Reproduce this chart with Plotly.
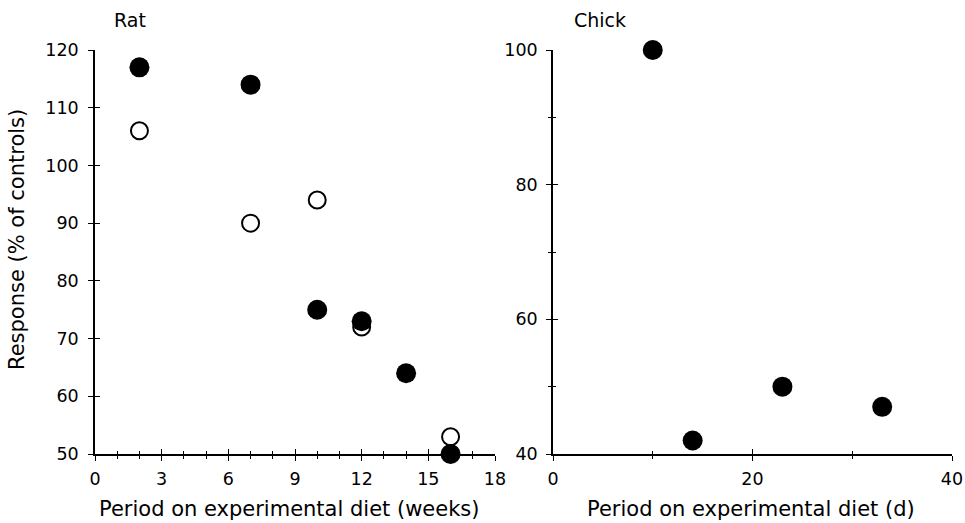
import plotly.graph_objects as go

# Data
rat_filled_x = [2, 7, 10, 12, 14, 16]
rat_filled_y = [117, 114, 75, 73, 64, 50]
rat_open_x = [2, 7, 10, 12, 16]
rat_open_y = [106, 90, 94, 72, 53]
chick_x = [10, 14, 23, 33]
chick_y = [100, 42, 50, 47]

rat_xticks = [0, 3, 6, 9, 12, 15, 18]
rat_yticks = [50, 60, 70, 80, 90, 100, 110, 120]
chick_xticks = [0, 20, 40]
chick_yticks = [40, 60, 80, 100]

W, H = 965, 523
FONT = "DejaVu Sans, Verdana, sans-serif"
TF = dict(family=FONT, size=17.5, color="black")
PF = dict(family=FONT, size=19, color="black")
LF = dict(family=FONT, size=21, color="black")

def fx(p):
    return p / W

def fy(p):
    return 1 - p / H

dx1 = [fx(95), fx(495)]
dx2 = [fx(553), fx(952)]
dy = [fy(454), fy(50)]

fig = go.Figure()
fig.add_trace(go.Scatter(x=rat_open_x, y=rat_open_y, mode="markers", xaxis="x", yaxis="y",
                         marker=dict(size=17, color="white", line=dict(color="black", width=2)),
                         cliponaxis=False, showlegend=False))
fig.add_trace(go.Scatter(x=rat_filled_x, y=rat_filled_y, mode="markers", xaxis="x", yaxis="y",
                         marker=dict(size=20, color="black", line=dict(width=0)),
                         cliponaxis=False, showlegend=False))
fig.add_trace(go.Scatter(x=chick_x, y=chick_y, mode="markers", xaxis="x2", yaxis="y2",
                         marker=dict(size=20, color="black", line=dict(width=0)),
                         cliponaxis=False, showlegend=False))
# dummy traces to activate overlay axes for crossing ticks
fig.add_trace(go.Scatter(x=[None], y=[None], xaxis="x3", yaxis="y3", showlegend=False, hoverinfo="skip"))
fig.add_trace(go.Scatter(x=[None], y=[None], xaxis="x4", yaxis="y4", showlegend=False, hoverinfo="skip"))

common = dict(showgrid=False, zeroline=False, linecolor="black", linewidth=1.5,
              tickcolor="black", tickwidth=1.3, tickfont=TF, automargin=False, fixedrange=True,
              ticklabeloverflow="allow")
mo = lambda d: dict(dtick=d, tick0=0, ticks="outside", ticklen=3, tickcolor="black", tickwidth=1.3)
mi = lambda d: dict(dtick=d, tick0=0, ticks="inside", ticklen=3, tickcolor="black", tickwidth=1.3)

fig.update_layout(
    width=W, height=H,
    margin=dict(l=0, r=0, t=0, b=0),
    paper_bgcolor="white", plot_bgcolor="rgba(0,0,0,0)",
    showlegend=False,
    xaxis=dict(domain=dx1, range=[0, 18], anchor="y", showline=True, ticks="outside", ticklen=5,
               tickvals=rat_xticks, ticktext=[str(v) for v in rat_xticks], minor=mo(1),
               ticklabelstandoff=3, **common),
    yaxis=dict(domain=dy, range=[50, 120], anchor="x", showline=True, ticks="outside", ticklen=5,
               tickvals=rat_yticks, ticktext=[str(v) for v in rat_yticks], ticklabelstandoff=6, **common),
    xaxis3=dict(domain=dx1, range=[0, 18], anchor="y", overlaying="x", showline=False, ticks="inside", ticklen=5,
                tickvals=rat_xticks, showticklabels=False, minor=mi(1), **common),
    yaxis3=dict(domain=dy, range=[50, 120], anchor="x", overlaying="y", showline=False, ticks="inside", ticklen=5,
                tickvals=rat_yticks, showticklabels=False, **common),
    xaxis2=dict(domain=dx2, range=[0, 40], anchor="y2", showline=True, ticks="outside", ticklen=5,
                tickvals=chick_xticks, ticktext=[str(v) for v in chick_xticks], minor=mo(10),
                ticklabelstandoff=3, **common),
    yaxis2=dict(domain=dy, range=[40, 100], anchor="x2", showline=True, ticks="outside", ticklen=5,
                tickvals=chick_yticks, ticktext=[str(v) for v in chick_yticks], minor=mo(10),
                ticklabelstandoff=5, **common),
    xaxis4=dict(domain=dx2, range=[0, 40], anchor="y2", overlaying="x2", showline=False, ticks="inside", ticklen=5,
                tickvals=chick_xticks, showticklabels=False, minor=mi(10), **common),
    yaxis4=dict(domain=dy, range=[40, 100], anchor="x2", overlaying="y2", showline=False, ticks="inside", ticklen=5,
                tickvals=chick_yticks, showticklabels=False, minor=mi(10), **common),
)

ann = dict(xref="paper", yref="paper", showarrow=False)
fig.add_annotation(text="Rat", x=fx(130), y=fy(20), xanchor="center", yanchor="middle", font=PF, **ann)
fig.add_annotation(text="Chick", x=fx(600), y=fy(20), xanchor="center", yanchor="middle", font=PF, **ann)
fig.add_annotation(text="Period on experimental diet (weeks)", x=fx(289), y=fy(509),
                   xanchor="center", yanchor="middle", font=LF, **ann)
fig.add_annotation(text="Period on experimental diet (d)", x=fx(751), y=fy(509),
                   xanchor="center", yanchor="middle", font=LF, **ann)
fig.add_annotation(text="Response (% of controls)", x=fx(17), y=fy(240), textangle=-90,
                   xanchor="center", yanchor="middle", font=LF, **ann)

fig.write_html("out.html", config={"displayModeBar": False},
               post_script="document.body.style.margin='0px';document.body.style.overflow='hidden';")
